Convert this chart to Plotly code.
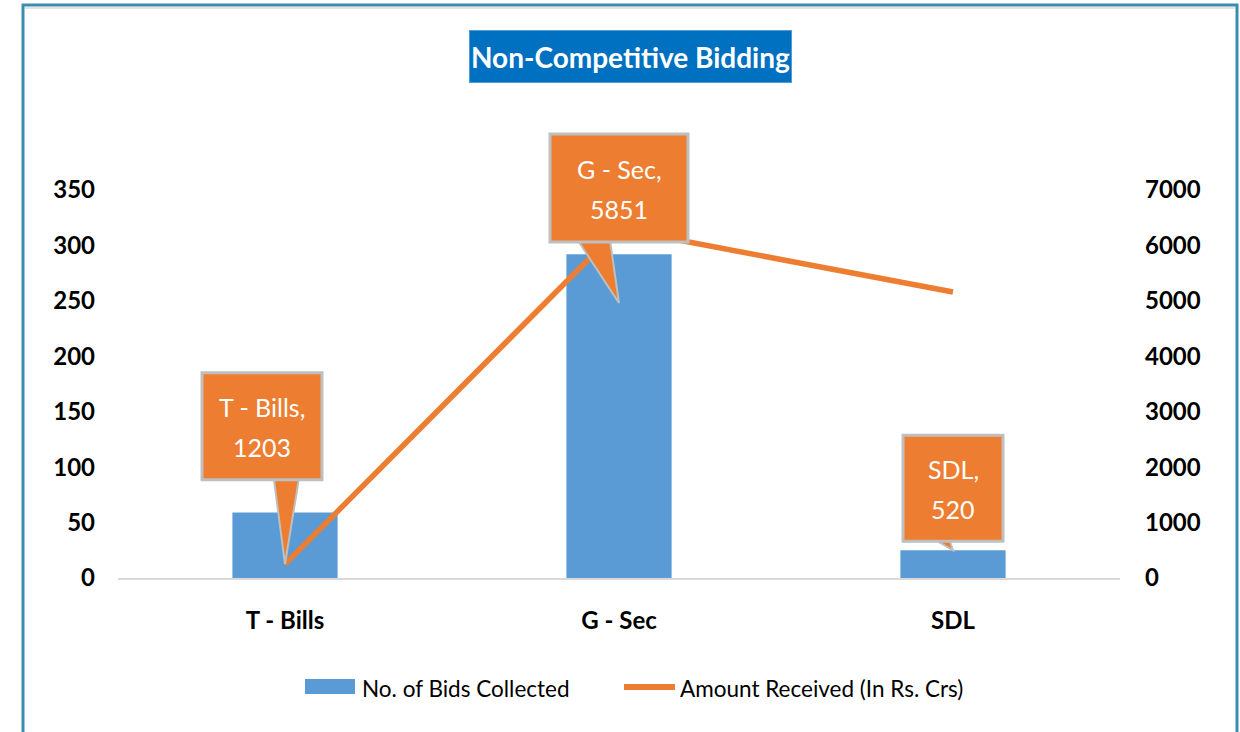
import plotly.graph_objects as go

# ---------------- data ----------------
categories = ["T - Bills", "G - Sec", "SDL"]
bids_collected = [59, 292, 25]            # left axis (No. of Bids Collected)
amount_received = [250, 6300, 5160]       # right axis (Amount Received, In Rs. Crs)
callout_values = [1203, 5851, 520]        # values printed in the callouts
left_ticks = [0, 50, 100, 150, 200, 250, 300, 350]
right_ticks = [0, 1000, 2000, 3000, 4000, 5000, 6000, 7000]

# ---------------- style ----------------
FONT = "Lato, Carlito, Calibri, sans-serif"
BAR_C = "#5B9BD5"
LINE_C = "#ED7D31"
GRAY = "#BFBFBF"
W, H = 1240, 732
X0, X1, Y0, Y1 = 118, 1120, 190, 578      # plot area in pixels
ML, MT = X0, Y0
MR, MB = W - X1, H - Y1
PW, PH = X1 - X0, Y1 - Y0
Y_RANGE = [left_ticks[0], left_ticks[-1]]
Y2_RANGE = [right_ticks[0], right_ticks[-1]]


def px(x):
    return (x - X0) / PW


def py(y):
    return (Y1 - y) / PH


fig = go.Figure()
fig.add_trace(go.Bar(
    x=categories, y=bids_collected, name="No. of Bids Collected",
    marker=dict(color=BAR_C, line=dict(width=0)), width=0.315,
    yaxis="y", showlegend=False,
))
fig.add_trace(go.Scatter(
    x=categories, y=amount_received, name="Amount Received (In Rs. Crs)",
    mode="lines", line=dict(color=LINE_C, width=5.5),
    yaxis="y2", showlegend=False,
))

shapes = []
annotations = []

# callouts: tip anchored to the data value, box / pointer offsets in pixels (up positive)
tip_y2 = [amount_received[0], 4960, bids_collected[2] * 20]
box_geom = [  # (dx_center, dy_center, width, height)
    (-23, 138, 120, 107),
    (0, 115, 138, 108),
    (0, 62, 100, 106),
]
pointer_base = [  # (dx_left, dx_right, dy)
    (-12, 15, 92),
    (-46, -10, 70),
    (-34, -7, 20),
]
for i, cat in enumerate(categories):
    bl, br, bdy = pointer_base[i]
    dx, dy, bw, bh = box_geom[i]
    tip_paper = (tip_y2[i] - Y2_RANGE[0]) / (Y2_RANGE[1] - Y2_RANGE[0])
    common = dict(xref="x", yref="paper", xsizemode="pixel", ysizemode="pixel",
                  xanchor=i, yanchor=tip_paper, layer="above")
    shapes.append(dict(
        type="path", path=f"M{bl},{bdy} L0,0 L{br},{bdy} Z",
        fillcolor=LINE_C, line=dict(color=GRAY, width=2), **common))
    shapes.append(dict(
        type="rect", x0=dx - bw / 2, x1=dx + bw / 2,
        y0=dy - bh / 2, y1=dy + bh / 2,
        fillcolor=LINE_C, line=dict(color=GRAY, width=3), **common))
    for j, line_txt in enumerate([f"{cat},", f"{callout_values[i]}"]):
        annotations.append(dict(
            x=cat, y=tip_paper, xref="x", yref="paper",
            xshift=dx, yshift=dy + (19.5 if j == 0 else -20.5),
            xanchor="center", yanchor="middle", showarrow=False,
            text=line_txt,
            font=dict(family=FONT, size=25, color="white"),
        ))

# title box
annotations.append(dict(
    x=px(630.5), y=py(56.5), xref="paper", yref="paper",
    xanchor="center", yanchor="middle", showarrow=False,
    text="<b>Non-Competitive Bidding</b>",
    font=dict(family=FONT, size=28, color="white"),
    bgcolor="#0070C0", bordercolor="#4F9ED8", borderwidth=1, borderpad=0,
    width=321, height=51,
))

# outer frame
shapes.append(dict(type="rect", xref="paper", yref="paper",
                   x0=px(23), x1=px(1237), y0=py(780), y1=py(5),
                   line=dict(color="#3C8DAD", width=3), layer="below"))
shapes.append(dict(type="line", xref="paper", yref="paper",
                   x0=px(25), x1=px(1235), y0=py(8), y1=py(8),
                   line=dict(color="#E3E3E3", width=2), layer="below"))

# legend (manual)
shapes.append(dict(type="rect", xref="paper", yref="paper",
                   x0=px(305), x1=px(355), y0=py(694), y1=py(679),
                   fillcolor=BAR_C, line=dict(width=0)))
shapes.append(dict(type="line", xref="paper", yref="paper",
                   x0=px(624), x1=px(675), y0=py(687), y1=py(687),
                   line=dict(color=LINE_C, width=6)))
annotations.append(dict(
    x=px(360), y=py(688), xref="paper", yref="paper", xanchor="left",
    yanchor="middle", showarrow=False, text="No. of Bids Collected",
    font=dict(family=FONT, size=22.5, color="black")))
annotations.append(dict(
    x=px(678), y=py(688), xref="paper", yref="paper", xanchor="left",
    yanchor="middle", showarrow=False, text="Amount Received (In Rs. Crs)",
    font=dict(family=FONT, size=22.5, color="black")))

tickfont = dict(family=FONT, size=24, color="black", weight="bold")

fig.update_layout(
    width=W, height=H,
    margin=dict(l=ML, r=MR, t=MT, b=MB),
    paper_bgcolor="white", plot_bgcolor="white",
    xaxis=dict(
        type="category", showgrid=False, showline=True, linecolor="#D9D9D9",
        linewidth=2, ticks="", tickfont=tickfont, ticklabelstandoff=20,
    ),
    yaxis=dict(
        range=Y_RANGE, tickvals=left_ticks, showgrid=False, zeroline=False,
        showline=False, ticks="", tickfont=tickfont, ticklabelstandoff=22,
    ),
    yaxis2=dict(
        range=Y2_RANGE, tickvals=right_ticks, overlaying="y", side="right",
        showgrid=False, zeroline=False, showline=False, ticks="",
        tickfont=tickfont, ticklabelstandoff=24,
    ),
    shapes=shapes,
    annotations=annotations,
)

fig.write_html(
    "out.html",
    config={"displayModeBar": False},
    post_script="document.body.style.margin='0';document.body.style.overflow='hidden';",
)
